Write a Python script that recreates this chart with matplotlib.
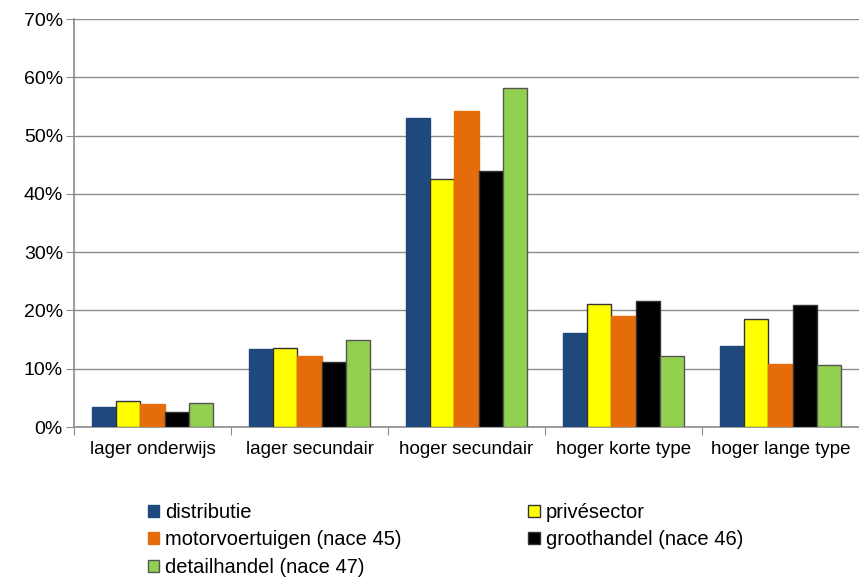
import numpy as np
import matplotlib.pyplot as plt
from matplotlib.patches import Patch

plt.rcParams['font.family'] = ['Liberation Sans', 'DejaVu Sans']

# Data
categories = ["lager onderwijs", "lager secundair", "hoger secundair", "hoger korte type", "hoger lange type"]
series_names = ["distributie", "privésector", "motorvoertuigen (nace 45)", "groothandel (nace 46)", "detailhandel (nace 47)"]
distributie = [3.5, 13.4, 53.1, 16.1, 13.9]
privesector = [4.4, 13.5, 42.6, 21.1, 18.5]
motorvoertuigen = [3.9, 12.2, 54.2, 19.0, 10.8]
groothandel = [2.5, 11.1, 43.9, 21.7, 20.9]
detailhandel = [4.1, 14.9, 58.1, 12.1, 10.6]

values = [distributie, privesector, motorvoertuigen, groothandel, detailhandel]
colors = ['#1F497D', '#FFFF00', '#E46C0A', '#000000', '#92D050']
edges = ['#1F497D', '#333333', '#E46C0A', '#333333', '#555555']

fig = plt.figure(figsize=(8.59, 5.78), dpi=100)
ax = fig.add_axes([74/859, 1 - 427/578, 785/859, (427 - 19)/578])

x = np.arange(len(categories))
w = 0.154
for k, vals in enumerate(values):
    ax.bar(x + (k - 2) * w, vals, width=w, color=colors[k], edgecolor=edges[k],
           linewidth=1.0, zorder=3)

ax.set_xlim(-0.5, len(categories) - 0.5)
ax.set_ylim(0, 70)
ax.set_yticks(range(0, 71, 10))
ax.set_yticklabels([f"{v}%" for v in range(0, 71, 10)], fontsize=14)
ax.yaxis.grid(True, color='#8c8c8c', linewidth=1.0, zorder=0)

# category labels centered, ticks at boundaries
ax.set_xticks(np.arange(-0.5, len(categories), 1.0))
ax.set_xticklabels([])
ax.set_xticks(x, minor=True)
ax.set_xticklabels(categories, minor=True, fontsize=13.5)
ax.tick_params(axis='x', which='minor', length=0, pad=10)
ax.tick_params(axis='x', which='major', length=6, color='#8c8c8c', direction='out')
ax.tick_params(axis='y', length=6, color='#8c8c8c', pad=2)

for side in ['top', 'right']:
    ax.spines[side].set_visible(False)
for side in ['left', 'bottom']:
    ax.spines[side].set_color('#8c8c8c')
    ax.spines[side].set_linewidth(1.2)

handles = [Patch(facecolor=colors[k], edgecolor=edges[k], label=series_names[k]) for k in range(5)]
# rows: distributie / privésector, motorvoertuigen / groothandel, detailhandel
order = [0, 2, 4, 1, 3]
fig.legend([handles[i] for i in order], [series_names[i] for i in order],
           ncol=2, loc='upper left', bbox_to_anchor=(148/859, 1 - 503/578),
           frameon=False, fontsize=14.5, handlelength=0.55, handleheight=0.55,
           handletextpad=0.3, labelspacing=0.42, columnspacing=6.3,
           borderpad=0, borderaxespad=0)

fig.savefig('out.png', dpi=100)
